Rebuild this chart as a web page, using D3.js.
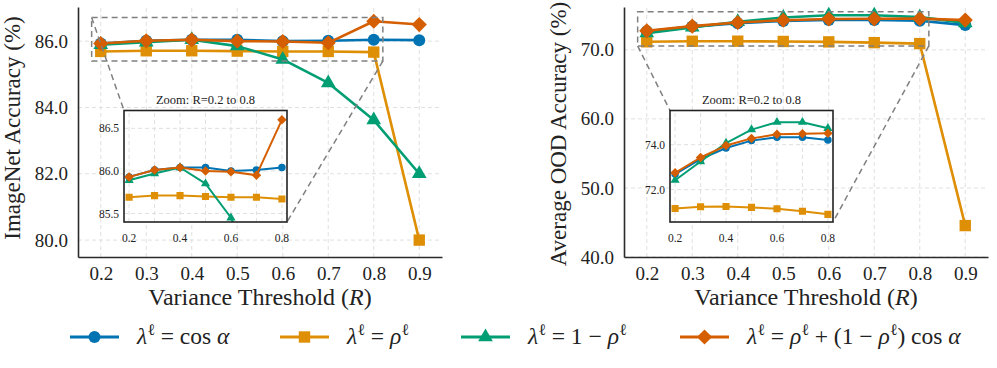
<!DOCTYPE html>
<meta charset="utf-8">
<svg width="997" height="368"></svg>
<style>
  body { margin: 0; background: #fff; }
  svg { display: block; }
  svg text { font-family: "Liberation Serif", "DejaVu Serif", "Times New Roman", serif !important; }
  .grid line { stroke: #dcdcdc; stroke-width: 0.9; stroke-dasharray: 4,3; }
  .axis path { stroke: #2b2b2b; stroke-width: 1.6; }
  .axis text { fill: #222; }
</style>
<script src="https://d3js.org/d3.v7.min.js"></script>
<script>

// variance thresholds R
var thresholds = [0.2, 0.3, 0.4, 0.5, 0.6, 0.7, 0.8, 0.9];

// ImageNet accuracy (%)
var inCos      = [85.93, 86.01, 86.04, 86.04, 86.00, 86.01, 86.04, 86.03];
var inRho      = [85.69, 85.71, 85.71, 85.70, 85.69, 85.69, 85.67, 80.00];
var inOneMinus = [85.89, 85.97, 86.04, 85.85, 85.45, 84.74, 83.62, 82.00];
var inMix      = [85.93, 86.01, 86.04, 86.00, 85.99, 85.95, 86.60, 86.50];

// average OOD accuracy (%)
var oodCos      = [72.69, 73.36, 73.85, 74.18, 74.33, 74.33, 74.21, 73.58];
var oodRho      = [71.16, 71.24, 71.25, 71.21, 71.15, 71.04, 70.90, 44.55];
var oodOneMinus = [72.42, 73.25, 74.07, 74.67, 75.00, 75.00, 74.73, 73.90];
var oodMix      = [72.75, 73.43, 73.96, 74.28, 74.46, 74.49, 74.51, 74.30];

var inYTicks = [80, 82, 84, 86];
var oodYTicks = [40, 50, 60, 70];
var inInsetYTicks = [85.5, 86.0, 86.5];
var oodInsetYTicks = [72, 74];
var insetXTicks = [0.2, 0.4, 0.6, 0.8];

// legend labels, split into parts (i = italic, s = superscript)
var legendLabels = [
  [{t: "λ", i: 1}, {t: "ℓ", s: 1}, {t: " = cos "}, {t: "α", i: 1}],
  [{t: "λ", i: 1}, {t: "ℓ", s: 1}, {t: " = "}, {t: "ρ", i: 1}, {t: "ℓ", s: 1}],
  [{t: "λ", i: 1}, {t: "ℓ", s: 1}, {t: " = 1 − "}, {t: "ρ", i: 1}, {t: "ℓ", s: 1}],
  [{t: "λ", i: 1}, {t: "ℓ", s: 1}, {t: " = "}, {t: "ρ", i: 1}, {t: "ℓ", s: 1}, {t: " + (1 − "},
   {t: "ρ", i: 1}, {t: "ℓ", s: 1}, {t: ") cos "}, {t: "α", i: 1}]
];

var colors = ["#0173b2", "#de8f05", "#029e73", "#d55e00"];
var shapes = ["circle", "square", "triangle", "diamond"];

var svg = d3.select("svg");

function marker(sel, shape, size) {
  // size ~ marker width in px
  var sym, rot = 0;
  if (shape == "circle") sym = d3.symbol(d3.symbolCircle, Math.PI * size * size / 4);
  else if (shape == "square") sym = d3.symbol(d3.symbolSquare, size * size * 0.9);
  else if (shape == "triangle") sym = d3.symbol(d3.symbolTriangle, size * size * 0.65);
  else { sym = d3.symbol(d3.symbolSquare, size * size * 0.8); rot = 45; }
  sel.attr("d", sym).attr("data-rot", rot);
}

function drawSeries(g, x, y, series, lw, ms, maxR) {
  series.forEach(function(vals, k) {
    var pts = thresholds.map(function(r, j) { return [r, vals[j]]; })
      .filter(function(p) { return p[0] <= maxR + 1e-9; });
    g.append("path")
        .datum(pts)
        .attr("fill", "none")
        .attr("stroke", colors[k])
        .attr("stroke-width", lw)
        .attr("stroke-linejoin", "round")
        .attr("d", d3.line().x(function(d) { return x(d[0]); }).y(function(d) { return y(d[1]); }));
    g.selectAll(null)
        .data(pts)
      .enter().append("path")
        .attr("fill", colors[k])
        .call(marker, shapes[k], ms)
        .attr("transform", function(d) {
          return "translate(" + x(d[0]) + "," + y(d[1]) + ") rotate(" + d3.select(this).attr("data-rot") + ")";
        });
  });
}

function grid(g, x, y, xt, yt) {
  var gr = g.append("g").attr("class", "grid");
  gr.selectAll(null).data(xt).enter().append("line")
      .attr("x1", x).attr("x2", x)
      .attr("y1", y.range()[0]).attr("y2", y.range()[1]);
  gr.selectAll(null).data(yt).enter().append("line")
      .attr("y1", y).attr("y2", y)
      .attr("x1", x.range()[0]).attr("x2", x.range()[1]);
}

function panel(o) {
  var x = d3.scaleLinear().domain([0.15, 0.95]).range(o.xr);
  var y = d3.scaleLinear().domain(o.yDom).range([257, 7]);
  var g = svg.append("g");

  grid(g, x, y, thresholds, o.yTicks);

  g.append("g").attr("class", "axis")
      .attr("transform", "translate(" + o.xr[0] + ",0)")
      .call(d3.axisLeft(y).tickValues(o.yTicks).tickFormat(d3.format(".1f")).tickSize(0).tickPadding(10))
      .selectAll("text").style("font-size", "19px");
  g.append("g").attr("class", "axis")
      .attr("transform", "translate(0,257)")
      .call(d3.axisBottom(x).tickValues(thresholds).tickFormat(d3.format(".1f")).tickSize(0).tickPadding(10))
      .selectAll("text").style("font-size", "19px");
  g.selectAll(".axis .tick line").remove();

  g.append("text")
      .attr("transform", "translate(" + (o.xr[0] - 58) + "," + o.ylabelY + ") rotate(-90)")
      .attr("text-anchor", "middle")
      .style("font-size", "23px").style("fill", "#222")
      .text(o.ylabel);
  var xl = g.append("text")
      .attr("x", (o.xr[0] + o.xr[1]) / 2).attr("y", 305)
      .attr("text-anchor", "middle")
      .style("font-size", "24px").style("fill", "#222");
  xl.append("tspan").text("Variance Threshold (");
  xl.append("tspan").style("font-style", "italic").text("R");
  xl.append("tspan").text(")");

  drawSeries(g, x, y, o.series, 2.6, 12, 1);

  // inset
  var ix = d3.scaleLinear().domain([0.18, 0.82]).range(o.ixr);
  var iy = d3.scaleLinear().domain(o.iyDom).range([222, 110.5]);

  // zoom indicator box + connectors
  var dash = {stroke: "#808080", w: 1.5, d: "6,4"};
  g.append("rect")
      .attr("x", x(0.18)).attr("y", y(o.iyDom[1]))
      .attr("width", x(0.82) - x(0.18)).attr("height", y(o.iyDom[0]) - y(o.iyDom[1]))
      .attr("fill", "none").attr("stroke", dash.stroke)
      .attr("stroke-width", dash.w).attr("stroke-dasharray", dash.d);
  o.links.forEach(function(l) {
    g.append("line")
        .attr("x1", x(l[0])).attr("y1", y(o.iyDom[l[1]]))
        .attr("x2", ix(l[0])).attr("y2", iy(o.iyDom[l[2]]))
        .attr("stroke", dash.stroke).attr("stroke-width", dash.w).attr("stroke-dasharray", dash.d);
  });

  var ig = g.append("g");
  ig.append("rect")
      .attr("x", o.ixr[0]).attr("y", 110.5)
      .attr("width", o.ixr[1] - o.ixr[0]).attr("height", 111.5)
      .attr("fill", "#fff");
  grid(ig, ix, iy, [0.2, 0.3, 0.4, 0.5, 0.6, 0.7, 0.8], o.iyTicks);

  var clipId = "clip" + o.ixr[0];
  ig.append("clipPath").attr("id", clipId).append("rect")
      .attr("x", o.ixr[0]).attr("y", 110.5)
      .attr("width", o.ixr[1] - o.ixr[0]).attr("height", 111.5);
  var sg = ig.append("g").attr("clip-path", "url(#" + clipId + ")");
  drawSeries(sg, ix, iy, o.series, 2, 7.5, 0.8);

  ig.append("rect")
      .attr("x", o.ixr[0]).attr("y", 110.5)
      .attr("width", o.ixr[1] - o.ixr[0]).attr("height", 111.5)
      .attr("fill", "none").attr("stroke", "#222").attr("stroke-width", 1.6);

  ig.selectAll(null).data(insetXTicks).enter().append("text")
      .attr("x", ix).attr("y", 242)
      .attr("text-anchor", "middle")
      .style("font-size", "11.5px").style("fill", "#222")
      .text(d3.format(".1f"));
  ig.selectAll(null).data(o.iyTicks).enter().append("text")
      .attr("x", o.ixr[0] - 5).attr("y", iy).attr("dy", "0.35em")
      .attr("text-anchor", "end")
      .style("font-size", "11.5px").style("fill", "#222")
      .text(d3.format(".1f"));
  ig.append("text")
      .attr("x", (o.ixr[0] + o.ixr[1]) / 2).attr("y", 104)
      .attr("text-anchor", "middle")
      .style("font-size", "12.5px").style("fill", "#222")
      .text("Zoom:  R=0.2 to 0.8");
}

panel({
  xr: [78, 442], yDom: [79.49, 87.03], yTicks: inYTicks,
  ylabel: "ImageNet Accuracy (%)", ylabelY: 128,
  series: [inCos, inRho, inOneMinus, inMix],
  ixr: [124, 287], iyDom: [85.4, 86.71], iyTicks: inInsetYTicks,
  // [r, rect y index, inset y index] ; index 1 = top, 0 = bottom
  links: [[0.18, 1, 1], [0.82, 0, 0]]
});

panel({
  xr: [624, 988], yDom: [40, 76.2], yTicks: oodYTicks,
  ylabel: "Average OOD Accuracy (%)", ylabelY: 134,
  series: [oodCos, oodRho, oodOneMinus, oodMix],
  ixr: [670, 833], iyDom: [70.56, 75.52], iyTicks: oodInsetYTicks,
  links: [[0.18, 0, 1], [0.82, 0, 0]]
});

// legend
var legX = [70, 280, 461, 680];
var leg = svg.append("g").attr("transform", "translate(0,337)");
legendLabels.forEach(function(parts, k) {
  var it = leg.append("g").attr("transform", "translate(" + legX[k] + ",0)");
  it.append("line").attr("x1", 0).attr("x2", 49)
      .attr("stroke", colors[k]).attr("stroke-width", 3);
  it.append("path").attr("fill", colors[k])
      .call(marker, shapes[k], 12)
      .attr("transform", function() { return "translate(24.5,0) rotate(" + d3.select(this).attr("data-rot") + ")"; });
  var t = it.append("text").attr("x", 67).attr("y", 7)
      .style("font-size", "23.5px").style("fill", "#222");
  var up = false;
  parts.forEach(function(p) {
    var ts = t.append("tspan").text(p.t);
    if (p.i) ts.style("font-style", "italic");
    if (p.s) { ts.attr("dy", -9).style("font-size", "16px"); up = true; }
    else if (up) { ts.attr("dy", 9); up = false; }
  });
});

</script>
